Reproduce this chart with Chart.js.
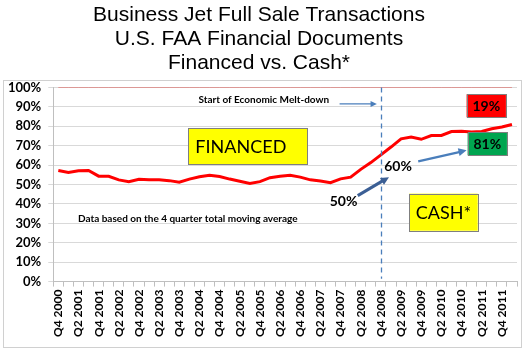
<!DOCTYPE html>
<html>
<head>
<meta charset="utf-8">
<script src="https://cdn.jsdelivr.net/npm/chart.js@4/dist/chart.umd.min.js"></script>
<style>
  html, body { margin: 0; padding: 0; background: #fff; }
  #wrap { width: 525px; height: 350px; position: relative; }
</style>
</head>
<body>
<div id="wrap"><canvas id="chart" width="525" height="350"></canvas></div>
<script>
// Quarters from Q4 2000 to Q1 2012 (labels shown every other quarter)
const quarters = [
    'Q4 2000',
    'Q1 2001', 'Q2 2001', 'Q3 2001', 'Q4 2001',
    'Q1 2002', 'Q2 2002', 'Q3 2002', 'Q4 2002',
    'Q1 2003', 'Q2 2003', 'Q3 2003', 'Q4 2003',
    'Q1 2004', 'Q2 2004', 'Q3 2004', 'Q4 2004',
    'Q1 2005', 'Q2 2005', 'Q3 2005', 'Q4 2005',
    'Q1 2006', 'Q2 2006', 'Q3 2006', 'Q4 2006',
    'Q1 2007', 'Q2 2007', 'Q3 2007', 'Q4 2007',
    'Q1 2008', 'Q2 2008', 'Q3 2008', 'Q4 2008',
    'Q1 2009', 'Q2 2009', 'Q3 2009', 'Q4 2009',
    'Q1 2010', 'Q2 2010', 'Q3 2010', 'Q4 2010',
    'Q1 2011', 'Q2 2011', 'Q3 2011', 'Q4 2011',
    'Q1 2012'
];

// share of transactions (%), 4 quarter moving average
const shareValues = [
    57.2,
    56.2, 57.1, 57.2, 54.3,
    54.2, 52.4, 51.5, 52.7,
    52.5, 52.4, 52.0, 51.2,
    52.8, 54.0, 54.8, 54.1,
    52.8, 51.7, 50.5, 51.5,
    53.5, 54.3, 54.8, 53.8,
    52.4, 51.8, 50.9, 52.9,
    53.8, 57.8, 61.3, 65.3,
    69.3, 73.5, 74.5, 73.3,
    75.2, 75.3, 77.3, 77.4,
    77.0, 77.3, 78.7, 79.6,
    80.9
];

const totalValues = quarters.map(() => 100);

const yTicks = [0, 10, 20, 30, 40, 50, 60, 70, 80, 90, 100];

const titleLines = [
    'Business Jet Full Sale Transactions',
    'U.S. FAA Financial Documents',
    'Financed vs. Cash*'
];

const meltdownQuarter = 'Q4 2008';

const labelFont = '"Lato", "Open Sans", sans-serif';

// draws the light grey frame around the plot
const framePlugin = {
    id: 'frame',
    beforeDraw(chart) {
        const ctx = chart.ctx;
        ctx.save();
        ctx.strokeStyle = '#d0d0d0';
        ctx.lineWidth = 1;
        ctx.strokeRect(3.5, 80.5, 518, 267);
        ctx.restore();
    }
};

function arrow(ctx, x1, y1, x2, y2, color, width, head) {
    const a = Math.atan2(y2 - y1, x2 - x1);
    ctx.save();
    ctx.strokeStyle = color;
    ctx.fillStyle = color;
    ctx.lineWidth = width;
    ctx.beginPath();
    ctx.moveTo(x1, y1);
    ctx.lineTo(x2 - Math.cos(a) * head * 0.6, y2 - Math.sin(a) * head * 0.6);
    ctx.stroke();
    ctx.beginPath();
    ctx.moveTo(x2, y2);
    ctx.lineTo(x2 - head * Math.cos(a - 0.45), y2 - head * Math.sin(a - 0.45));
    ctx.lineTo(x2 - head * Math.cos(a + 0.45), y2 - head * Math.sin(a + 0.45));
    ctx.closePath();
    ctx.fill();
    ctx.restore();
}

function box(ctx, x1, y1, x2, y2, fill, text, font, align) {
    ctx.save();
    ctx.fillStyle = fill;
    ctx.fillRect(x1, y1, x2 - x1, y2 - y1);
    ctx.strokeStyle = '#7f7f7f';
    ctx.lineWidth = 1;
    ctx.strokeRect(Math.round(x1) + 0.5, Math.round(y1) + 0.5, Math.round(x2 - x1), Math.round(y2 - y1));
    ctx.fillStyle = '#000';
    ctx.font = font;
    ctx.textBaseline = 'middle';
    if (align === 'left') {
        ctx.textAlign = 'left';
        ctx.fillText(text, x1 + 7, (y1 + y2) / 2 + 1);
    } else {
        ctx.textAlign = 'center';
        ctx.fillText(text, (x1 + x2) / 2, (y1 + y2) / 2 + 1);
    }
    ctx.restore();
}

// text boxes, arrows and the melt-down marker, placed in data space
const notesPlugin = {
    id: 'notes',
    afterDatasetsDraw(chart) {
        const ctx = chart.ctx;
        const xs = chart.scales.x;
        const ys = chart.scales.y;
        const px = i => xs.getPixelForValue(i);
        const py = v => ys.getPixelForValue(v);

        // dashed line at start of melt-down
        const mx = Math.round(px(quarters.indexOf(meltdownQuarter))) + 0.5;
        ctx.save();
        ctx.strokeStyle = '#4a7ebb';
        ctx.lineWidth = 1.3;
        ctx.setLineDash([5, 4]);
        ctx.beginPath();
        ctx.moveTo(mx, py(100));
        ctx.lineTo(mx, py(1.5));
        ctx.stroke();
        ctx.restore();

        ctx.save();
        ctx.fillStyle = '#000';
        ctx.font = 'bold 10px ' + labelFont;
        ctx.textBaseline = 'middle';
        ctx.textAlign = 'left';
        ctx.fillText('Start of Economic Melt-down', px(13.9), py(93.4));
        ctx.fillText('Data based on the 4 quarter total moving average', px(1.95), py(32.4));
        ctx.font = 'bold 14px ' + labelFont;
        ctx.textAlign = 'center';
        ctx.fillText('60%', px(33.7), py(59.3));
        ctx.fillText('50%', px(28.3), py(41.5));
        ctx.restore();

        arrow(ctx, px(27.9), py(91.5), px(31.6), py(91.5), '#4a7ebb', 1.2, 7);
        arrow(ctx, px(29.7), py(44.3), px(32.8), py(53.8), '#3b5f95', 3, 9);
        arrow(ctx, px(35.7), py(61.9), px(40.5), py(67.6), '#4a7ebb', 2.2, 9);

        box(ctx, px(12.9), py(79.1), px(24.7), py(60.3), '#ffff00', 'FINANCED', '18px ' + labelFont, 'left');
        box(ctx, px(34.8), py(45.3), px(41.6), py(26.2), '#ffff00', 'CASH*', '18px ' + labelFont);
        box(ctx, px(40.5), py(96.5), px(44.4), py(84.6), '#ff0000', '19%', 'bold 14px ' + labelFont);
        box(ctx, px(40.6), py(76.9), px(44.5), py(65.0), '#00a550', '81%', 'bold 14px ' + labelFont);
    }
};

new Chart(document.getElementById('chart'), {
    type: 'line',
    data: {
        labels: quarters,
        datasets: [{
            data: totalValues,
            borderColor: '#e0504a',
            borderWidth: 1,
            pointRadius: 0,
            tension: 0
        }, {
            data: shareValues,
            borderColor: '#ff0000',
            borderWidth: 3,
            pointRadius: 0,
            tension: 0
        }]
    },
    options: {
        responsive: false,
        animation: false,
        layout: {
            padding: { left: 1, right: 8, top: 0, bottom: 10 }
        },
        plugins: {
            legend: { display: false },
            tooltip: { enabled: false },
            title: {
                display: true,
                text: titleLines,
                color: '#000',
                font: { family: '"Liberation Sans", Arial, sans-serif', size: 21, weight: 'normal', lineHeight: 1.15 },
                padding: { top: 3, bottom: 12 }
            }
        },
        scales: {
            x: {
                type: 'category',
                offset: true,
                // drop the extra room Chart.js keeps for the rotated last label
                afterFit: scale => { scale.paddingRight = 0; },
                grid: {
                    offset: true,
                    drawOnChartArea: false,
                    drawTicks: true,
                    tickLength: 5,
                    color: '#bfbfbf'
                },
                border: { color: '#bfbfbf' },
                ticks: {
                    autoSkip: false,
                    maxRotation: 90,
                    minRotation: 90,
                    padding: 3,
                    color: '#000',
                    font: { family: labelFont, size: 12, weight: 'bold' },
                    callback: function(value, index) {
                        return index % 2 === 0 ? quarters[index] : '';
                    }
                }
            },
            y: {
                min: 0,
                max: 100,
                afterBuildTicks: axis => {
                    axis.ticks = yTicks.map(v => ({ value: v }));
                },
                grid: {
                    color: '#d9d9d9',
                    tickLength: 5
                },
                border: { color: '#bfbfbf' },
                ticks: {
                    padding: 7,
                    color: '#000',
                    font: { family: labelFont, size: 13, weight: 'bold' },
                    callback: v => v + '%'
                }
            }
        }
    },
    plugins: [framePlugin, notesPlugin]
});
</script>
</body>
</html>
